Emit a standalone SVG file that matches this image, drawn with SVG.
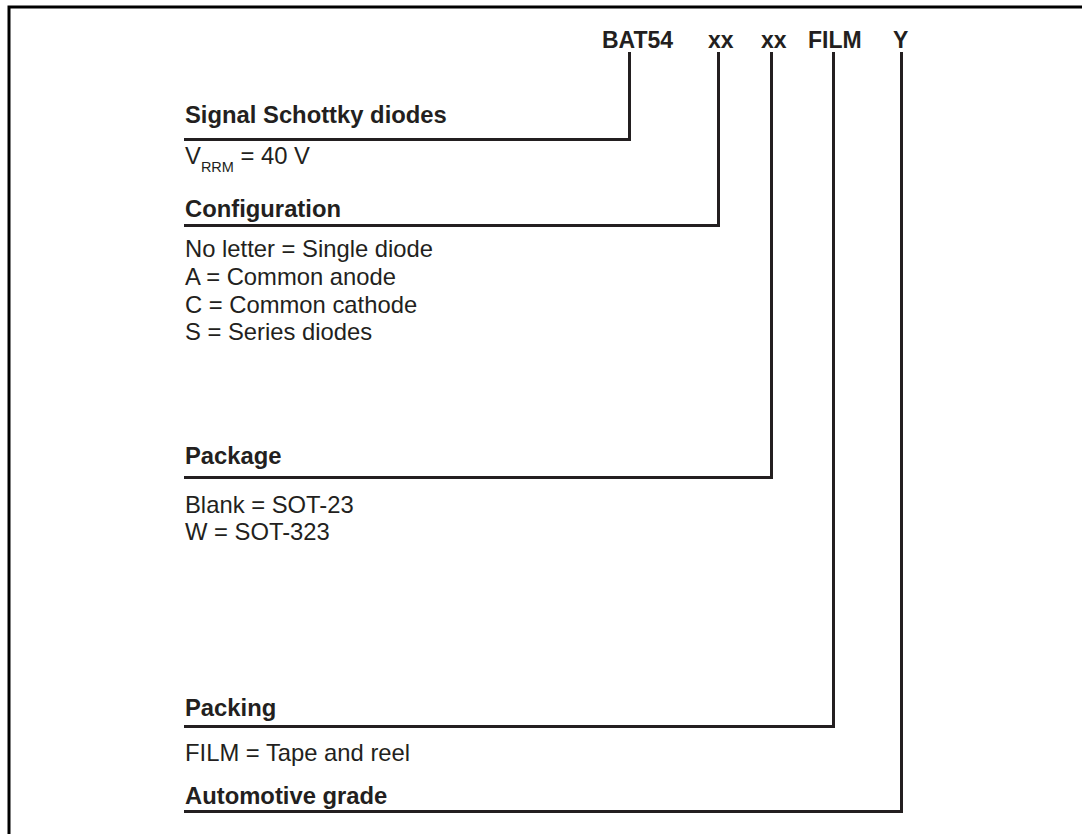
<svg xmlns="http://www.w3.org/2000/svg" width="1082" height="834" viewBox="0 0 1082 834">
<style>
text{font-family:"Liberation Sans",Arial,sans-serif;fill:#231f20;font-size:23.8px}
.b{font-weight:bold}
.code{font-weight:bold;font-size:23px}
.sub{font-size:14.5px}
.ln{fill:none;stroke:#231f20;stroke-width:3}
.frame{fill:none;stroke:#000;stroke-width:3}
</style>
<rect width="1082" height="834" fill="#fff"/>
<path class="frame" d="M9 834 V7 H1082"/>
<g id="code">
<text class="code" x="602" y="48">BAT54</text>
<text class="code" x="708" y="48">xx</text>
<text class="code" x="761" y="48">xx</text>
<text class="code" x="808" y="48">FILM</text>
<text class="code" x="893" y="48">Y</text>
</g>
<g id="connectors">
<path class="ln" d="M629.5 52 V139.5 H184"/>
<path class="ln" d="M718.5 52 V225.5 H184"/>
<path class="ln" d="M771.5 52 V477.5 H184"/>
<path class="ln" d="M833.5 52 V726.5 H184"/>
<path class="ln" d="M901.5 52 V811.5 H184"/>
</g>
<g id="n-signal">
<text class="b" x="185" y="123">Signal Schottky diodes</text>
<text x="185" y="164">V<tspan class="sub" dy="8">RRM</tspan><tspan dy="-8"> = 40 V</tspan></text>
</g>
<g id="n-config">
<text class="b" x="185" y="217">Configuration</text>
<text x="185" y="257">No letter = Single diode</text>
<text x="185" y="285">A = Common anode</text>
<text x="185" y="313">C = Common cathode</text>
<text x="185" y="340">S = Series diodes</text>
</g>
<g id="n-package">
<text class="b" x="185" y="464">Package</text>
<text x="185" y="513">Blank = SOT-23</text>
<text x="185" y="540">W = SOT-323</text>
</g>
<g id="n-packing">
<text class="b" x="185" y="716">Packing</text>
<text x="185" y="761">FILM = Tape and reel</text>
</g>
<g id="n-auto">
<text class="b" x="185" y="804">Automotive grade</text>
</g>
</svg>
